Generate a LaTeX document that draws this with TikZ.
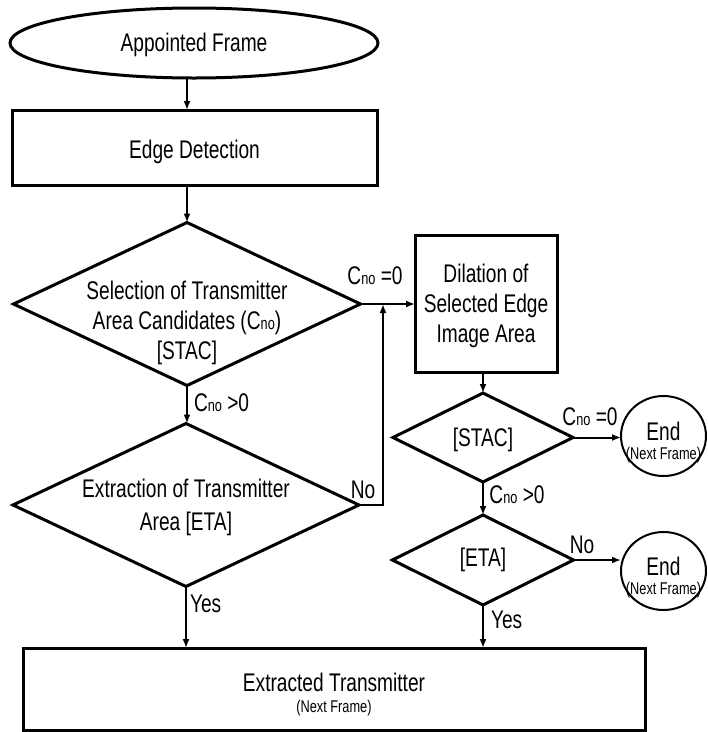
\documentclass[tikz,border=0pt]{standalone}
\usepackage{fontspec}
\setmainfont{Liberation Sans}[FakeStretch=0.75]
\usetikzlibrary{shapes.geometric,arrows.meta}
% C with the small "no" index
\newcommand\cno{C{\fontsize{17}{17}\selectfont no}}
\begin{document}
\begin{tikzpicture}[x=1pt,y=-1pt,
  every node/.style={inner sep=0pt, outer sep=0pt, font=\fontsize{25.5}{30}\selectfont},
  txt/.style={align=center},
  small/.style={font=\fontsize{17}{17}\selectfont},
  procbox/.style={draw, rectangle, line width=3pt},
  decision/.style={draw, diamond, line width=3pt},
  terminal/.style={draw, ellipse, line width=3pt},
  endnode/.style={draw, ellipse, line width=2pt},
  arr/.style={line width=2pt, -{Latex[length=9pt,width=7pt]}}
]
\useasboundingbox (0,0) rectangle (708,732);

% left column
\node[terminal, minimum width=368pt, minimum height=70pt] (af) at (194,43) {};
\node[txt] (af-t) at (194,45) {Appointed Frame};

\node[procbox, minimum width=365pt, minimum height=75pt] (ed) at (194.5,147.5) {};
\node[txt] (ed-t) at (194.5,152) {Edge Detection};

\node[decision, minimum width=347pt, minimum height=163pt] (d1) at (187,304) {};
\node[txt] (d1-t) at (187,323) {Selection of Transmitter\\Area Candidates (\cno)\\{}[STAC]};

\node[decision, minimum width=346pt, minimum height=163pt] (d2) at (186,505) {};
\node[txt, font=\fontsize{25.5}{33}\selectfont] (d2-t) at (186,507) {Extraction of Transmitter\\Area [ETA]};

% right column
\node[procbox, minimum width=142pt, minimum height=137pt] (dil) at (486,303.5) {};
\node[txt] (dil-t) at (486,306) {Dilation of\\Selected Edge\\Image Area};

\node[decision, minimum width=180pt, minimum height=89pt] (d3) at (483,437.5) {};
\node[txt] (d3-t) at (483,440) {[STAC]};

\node[decision, minimum width=181pt, minimum height=90pt] (d4) at (483,560) {};
\node[txt] (d4-t) at (483,560) {[ETA]};

\node[endnode, minimum width=85pt, minimum height=80pt] (e1) at (663.5,436) {};
\node[txt] (e1-a) at (663.5,431) {End};
\node[small] (e1-b) at (663.5,455) {(Next Frame)};

\node[endnode, minimum width=85pt, minimum height=78pt] (e2) at (663.5,571) {};
\node[txt] (e2-a) at (663.5,566) {End};
\node[small] (e2-b) at (663.5,590) {(Next Frame)};

% result
\node[procbox, minimum width=622pt, minimum height=82pt] (et) at (334,689) {};
\node[txt] (et-a) at (334,682) {Extracted Transmitter};
\node[small] (et-b) at (334,708) {(Next Frame)};

% connectors
\coordinate (j) at (383,304);
\draw[arr] (d1.north |- af.south) -- (d1.north |- ed.north);
\draw[arr] (d1.north |- ed.south) -- (d1.north);
\draw[arr] (d1.east) -- (d1.east -| dil.west);
\draw[arr] (d1.south) -- (d1.south |- d2.north);
\draw[arr] (d2.east) -| (j);
\draw[arr] (d3.north |- dil.south) -- (d3.north);
\draw[arr] (d3.east) -- (d3.east -| e1.west);
\draw[arr] (d3.south) -- (d3.south |- d4.north);
\draw[arr] (d4.east) -- (d4.east -| e2.west);
\draw[arr] (d2.south) -- (d2.south |- et.north);
\draw[arr] (d4.south) -- (d4.south |- et.north);

% connector labels
\node (l1) at (375,276) {\cno\ =0};
\node[anchor=west] (l2) at (194,403) {\cno\ >0};
\node (l3) at (363,490) {No};
\node (l4) at (590,417) {\cno\ =0};
\node (l5) at (517,495) {\cno\ >0};
\node (l6) at (582,545) {No};
\node[anchor=west] (l7) at (190,604) {Yes};
\node[anchor=west] (l8) at (491,620) {Yes};
\end{tikzpicture}
\end{document}
